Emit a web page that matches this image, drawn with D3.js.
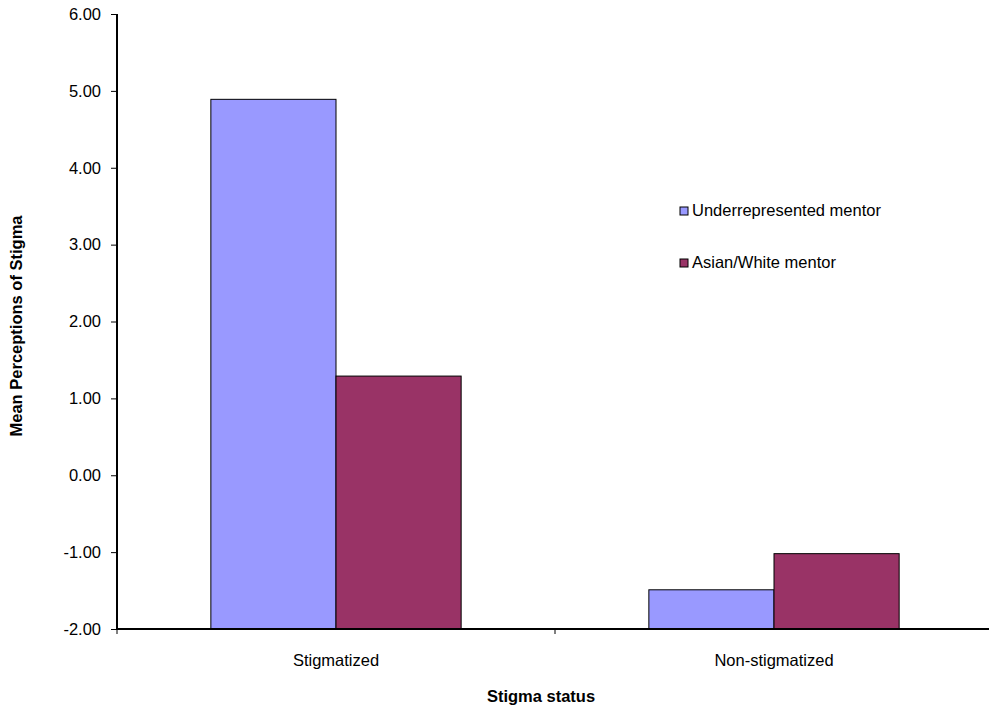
<!DOCTYPE html>
<html>
<head>
<meta charset="utf-8">
<script src="https://cdn.jsdelivr.net/npm/d3@7"></script>
<style>
  html, body { margin: 0; padding: 0; background: #fff; }
  svg { display: block; font-family: "Liberation Sans", Arial, sans-serif; }
</style>
</head>
<body>
<svg id="chart" width="989" height="708"></svg>
<script>
// Mean perceptions of stigma by stigma status and mentor group
const categories = ["Stigmatized", "Non-stigmatized"];
const seriesNames = ["Underrepresented mentor", "Asian/White mentor"];
const underrepresented = [4.89, -1.49];
const asianWhite = [1.29, -1.02];
const seriesValues = [underrepresented, asianWhite];
const seriesColors = ["#9999FF", "#993366"];
const yTicks = [-2, -1, 0, 1, 2, 3, 4, 5, 6];

const svg = d3.select("#chart");
const plotLeft = 117, plotRight = 993, plotTop = 14, plotBottom = 629;
const fontSize = 16.5;

const y = d3.scaleLinear().domain([-2, 6]).range([plotBottom, plotTop]);
const x0 = d3.scaleBand().domain(categories).range([plotLeft, plotRight]).padding(0);
const x1 = d3.scaleBand().domain(seriesNames).range([0, x0.bandwidth()])
  .paddingInner(0).paddingOuter(0.75);

// bars rise from the axis floor at -2
const g = svg.append("g");
categories.forEach((cat, ci) => {
  seriesNames.forEach((s, si) => {
    const v = seriesValues[si][ci];
    g.append("rect")
      .attr("x", x0(cat) + x1(s))
      .attr("y", y(v))
      .attr("width", x1.bandwidth())
      .attr("height", y(-2) - y(v))
      .attr("fill", seriesColors[si])
      .attr("stroke", "#000")
      .attr("stroke-width", 1);
  });
});

// y axis
const fmt = d3.format(".2f");
const yAxis = d3.axisLeft(y).tickValues(yTicks).tickSize(6).tickPadding(10)
  .tickFormat(d => d < 0 ? "-" + fmt(-d) : fmt(d));
const ya = svg.append("g").attr("transform", `translate(${plotLeft},0)`).call(yAxis);
ya.select(".domain").attr("stroke", "#000").attr("stroke-width", 2)
  .attr("d", `M0,${plotTop}V${plotBottom}`);
ya.selectAll(".tick line").attr("stroke", "#000");
ya.selectAll(".tick text").attr("font-size", fontSize).attr("fill", "#000")
  .attr("font-family", "Liberation Sans, Arial, sans-serif");

// x axis with boundary ticks between categories
const xa = svg.append("g").attr("transform", `translate(0,${plotBottom})`);
xa.append("line").attr("x1", plotLeft - 1).attr("x2", plotRight).attr("y1", 0).attr("y2", 0)
  .attr("stroke", "#000").attr("stroke-width", 2);
[plotLeft, x0(categories[1]), plotRight].forEach(px => {
  xa.append("line").attr("x1", px).attr("x2", px).attr("y1", 0).attr("y2", 5)
    .attr("stroke", "#000");
});
categories.forEach(cat => {
  xa.append("text")
    .attr("x", x0(cat) + x0.bandwidth() / 2)
    .attr("y", 37)
    .attr("text-anchor", "middle")
    .attr("font-size", fontSize)
    .text(cat);
});

// axis titles
svg.append("text")
  .attr("x", 541).attr("y", 702)
  .attr("text-anchor", "middle")
  .attr("font-size", fontSize).attr("font-weight", "bold")
  .text("Stigma status");
svg.append("text")
  .attr("transform", "translate(22,326) rotate(-90)")
  .attr("text-anchor", "middle")
  .attr("font-size", fontSize).attr("font-weight", "bold")
  .text("Mean Perceptions of Stigma");

// legend
const legend = svg.append("g");
seriesNames.forEach((s, i) => {
  const base = 216 + i * 52;
  legend.append("rect")
    .attr("x", 680).attr("y", base - 9).attr("width", 8).attr("height", 8)
    .attr("fill", seriesColors[i]).attr("stroke", "#000").attr("stroke-width", 1);
  legend.append("text")
    .attr("x", 692).attr("y", base)
    .attr("font-size", fontSize)
    .text(s);
});
</script>
</body>
</html>
